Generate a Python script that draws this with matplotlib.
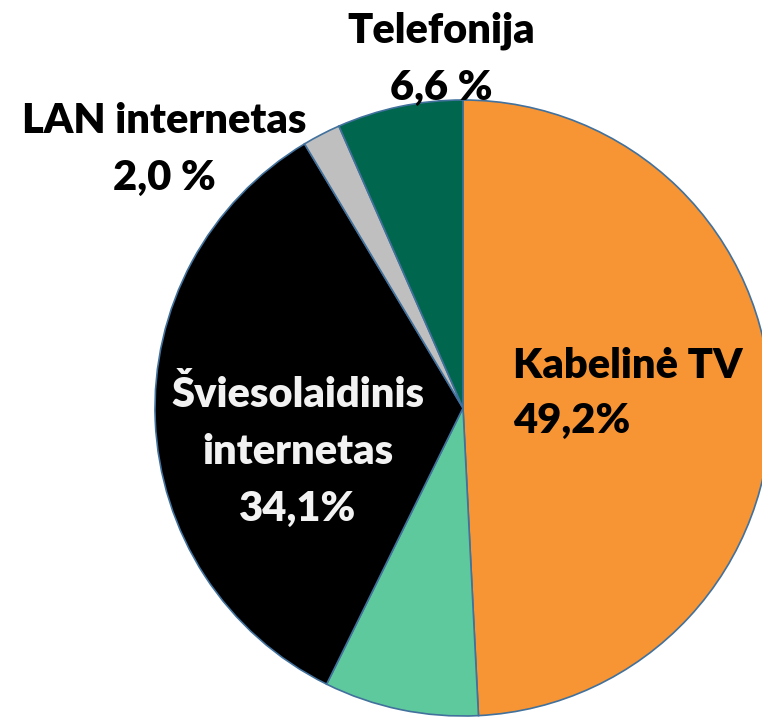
import matplotlib
matplotlib.use("Agg")
import matplotlib.pyplot as plt

# ── data ──────────────────────────────────────────────────────────────────────
categories = ["Kabelinė TV", "Kita", "Šviesolaidinis internetas", "LAN internetas", "Telefonija"]
shares = [49.2, 8.1, 34.1, 2.0, 6.6]
label_lines = [["Kabelinė TV", "49,2%"], [], ["Šviesolaidinis", "internetas", "34,1%"],
               ["LAN internetas", "2,0 %"], ["Telefonija", "6,6 %"]]
colors = ["#F79433", "#5FC99E", "#000000", "#BFBFBF", "#00664E"]

W, H = 762, 717
fig = plt.figure(figsize=(W / 100, H / 100), dpi=100)
ax = fig.add_axes([0, 0, 1, 1])

cx, cy, r = 463, H - 408, 308
ax.pie(shares, colors=colors, startangle=90, counterclock=False,
       center=(cx, cy), radius=r, frame=True,
       wedgeprops=dict(edgecolor="#41719C", linewidth=1.2))
ax.set_xlim(0, W)
ax.set_ylim(0, H)
ax.set_aspect("equal")
ax.axis("off")

font = dict(family="Lato", fontweight="heavy", fontsize=30)

# (x, first baseline from top, line step, align, colour)
placements = {
    0: (513, 378, 55, "left", "black"),
    2: (298, 407, 57, "center", "#F2F2F2"),
    3: (164, 133, 57, "center", "black"),
    4: (441, 42, 58, "center", "black"),
}
for i, (x, y0, step, ha, col) in placements.items():
    for k, line in enumerate(label_lines[i]):
        ax.text(x, H - (y0 + k * step), line, ha=ha, va="baseline",
                color=col, **font)

fig.savefig("out.png", dpi=100)
